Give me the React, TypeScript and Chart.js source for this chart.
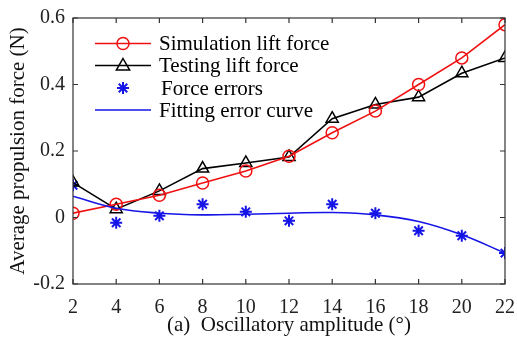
import React, { useEffect, useRef } from "react";
import { Chart, registerables } from "chart.js";
Chart.register(...registerables);

const amplitudes = [2, 4, 6, 8, 10, 12, 14, 16, 18, 20, 22];
const simulationLift = [0.013, 0.04, 0.067, 0.104, 0.14, 0.184, 0.255, 0.32, 0.4, 0.48, 0.58];
const testingLift = [0.105, 0.025, 0.08, 0.147, 0.164, 0.182, 0.297, 0.34, 0.362, 0.434, 0.48];
const forceErrors = [0.097, -0.016, 0.005, 0.04, 0.017, -0.01, 0.04, 0.013, -0.04, -0.055, -0.107];
const fittingCurve = [0.064, 0.028, 0.013, 0.008, 0.01, 0.013, 0.015, 0.008, -0.012, -0.052, -0.107];
const legendLabels = ["Simulation lift force", "Testing lift force", "Force errors", "Fitting error curve"];
const xTitle = "(a)  Oscillatory amplitude (\u00b0)";
const yTitle = "Average propulsion force (N)";

const FONT = "'Liberation Serif', 'Times New Roman', serif";
const RED = "#f01010";
const BLACK = "#000000";
const BLUE = "#1515e8";

function drawMarker(ctx: CanvasRenderingContext2D, style: string, x: number, y: number, r: number, color: string) {
  ctx.save();
  ctx.strokeStyle = color;
  ctx.lineWidth = style === "star" ? 2 : 1.5;
  ctx.beginPath();
  if (style === "circle") {
    ctx.arc(x, y, r, 0, Math.PI * 2);
  } else if (style === "triangle") {
    ctx.moveTo(x, y - r);
    ctx.lineTo(x + r * 0.95, y + r * 0.65);
    ctx.lineTo(x - r * 0.95, y + r * 0.65);
    ctx.closePath();
  } else if (style === "star") {
    for (let i = 0; i < 4; i++) {
      const a = (Math.PI / 4) * i;
      ctx.moveTo(x - Math.cos(a) * r, y - Math.sin(a) * r);
      ctx.lineTo(x + Math.cos(a) * r, y + Math.sin(a) * r);
    }
  }
  ctx.stroke();
  ctx.restore();
}

const frame = {
  id: "frame",
  afterDraw(chart: any) {
    const { ctx, chartArea: a, scales } = chart;
    ctx.save();
    ctx.strokeStyle = "#333";
    ctx.lineWidth = 1.2;
    ctx.strokeRect(a.left, a.top, a.right - a.left, a.bottom - a.top);
    const tl = 5;
    ctx.beginPath();
    scales.x.ticks.forEach((t: any) => {
      const px = scales.x.getPixelForValue(t.value);
      ctx.moveTo(px, a.bottom);
      ctx.lineTo(px, a.bottom - tl);
      ctx.moveTo(px, a.top);
      ctx.lineTo(px, a.top + tl);
    });
    scales.y.ticks.forEach((t: any) => {
      const py = scales.y.getPixelForValue(t.value);
      ctx.moveTo(a.left, py);
      ctx.lineTo(a.left + tl, py);
      ctx.moveTo(a.right, py);
      ctx.lineTo(a.right - tl, py);
    });
    ctx.stroke();

    // legend
    const styles = [
      { marker: "circle", color: RED, line: true, r: 6 },
      { marker: "triangle", color: BLACK, line: true, r: 7 },
      { marker: "star", color: BLUE, line: false, r: 6 },
      { marker: "", color: BLUE, line: true, r: 0 },
    ];
    const rowsY = [43.5, 65.5, 88, 110];
    const x0 = 95, x1 = 151, xm = 123, xt = 159;
    ctx.font = `21px ${FONT}`;
    ctx.textBaseline = "middle";
    ctx.fillStyle = "#000";
    styles.forEach((s, i) => {
      const y = rowsY[i];
      if (s.line) {
        ctx.strokeStyle = s.color;
        ctx.lineWidth = 1.6;
        ctx.beginPath();
        ctx.moveTo(x0, y);
        ctx.lineTo(x1, y);
        ctx.stroke();
      }
      if (s.marker) drawMarker(ctx, s.marker, xm, y, s.r, s.color);
      ctx.fillStyle = "#000";
      ctx.fillText(legendLabels[i], i === 2 ? xt + 2 : xt, y + 1);
    });
    ctx.restore();
  },
};

export default function App() {
  const ref = useRef<HTMLCanvasElement>(null);
  useEffect(() => {
    document.body.style.margin = "0";
    const toXY = (arr: number[]) => arr.map((v, i) => ({ x: amplitudes[i], y: v }));
    const chart = new Chart(ref.current!, {
      type: "line",
      data: {
        datasets: [
          {
            data: toXY(fittingCurve),
            borderColor: BLUE,
            borderWidth: 1.6,
            pointRadius: 0,
            tension: 0.4,
            fill: false,
          },
          {
            data: toXY(simulationLift),
            borderColor: RED,
            borderWidth: 1.6,
            pointStyle: "circle",
            pointRadius: 6,
            pointBorderWidth: 1.5,
            pointBorderColor: RED,
            pointBackgroundColor: "rgba(0,0,0,0)",
            tension: 0,
          },
          {
            data: toXY(testingLift),
            borderColor: BLACK,
            borderWidth: 1.6,
            pointStyle: "triangle",
            pointRadius: 7,
            pointBorderWidth: 1.5,
            pointBorderColor: BLACK,
            pointBackgroundColor: "rgba(0,0,0,0)",
            tension: 0,
          },
          {
            data: toXY(forceErrors),
            showLine: false,
            borderColor: BLUE,
            pointStyle: "star",
            pointRadius: 6,
            pointBorderWidth: 2,
            pointBorderColor: BLUE,
          },
        ],
      },
      options: {
        animation: false,
        responsive: false,
        maintainAspectRatio: false,
        layout: { padding: { left: 0, top: 18, right: 12, bottom: 0 } },
        plugins: { legend: { display: false }, tooltip: { enabled: false } },
        scales: {
          x: {
            type: "linear",
            min: 2,
            max: 22,
            afterFit: (s: any) => {
              s.height = 61;
              s.paddingLeft = 0;
              s.paddingRight = 0;
            },
            grid: { display: false, drawTicks: false },
            border: { display: false },
            ticks: {
              stepSize: 2,
              padding: 12,
              color: "#222",
              font: { family: FONT, size: 20 },
              maxRotation: 0,
            },
            title: {
              display: true,
              text: xTitle,
              color: "#111",
              font: { family: FONT, size: 21 },
              padding: { top: 0, bottom: 7 },
            },
          },
          y: {
            min: -0.2,
            max: 0.6,
            afterFit: (s: any) => {
              s.width = 73;
              s.paddingTop = 0;
              s.paddingBottom = 0;
            },
            grid: { display: false, drawTicks: false },
            border: { display: false },
            ticks: {
              stepSize: 0.2,
              padding: 8,
              color: "#222",
              font: { family: FONT, size: 20 },
              callback: (v: any) => String(Math.round(Number(v) * 10) / 10),
            },
            title: {
              display: true,
              text: yTitle,
              color: "#111",
              font: { family: FONT, size: 21 },
              padding: { top: 6, bottom: 0 },
            },
          },
        },
      },
      plugins: [frame],
    });
    return () => chart.destroy();
  }, []);
  return <canvas ref={ref} width={517} height={345} style={{ display: "block" }} />;
}
